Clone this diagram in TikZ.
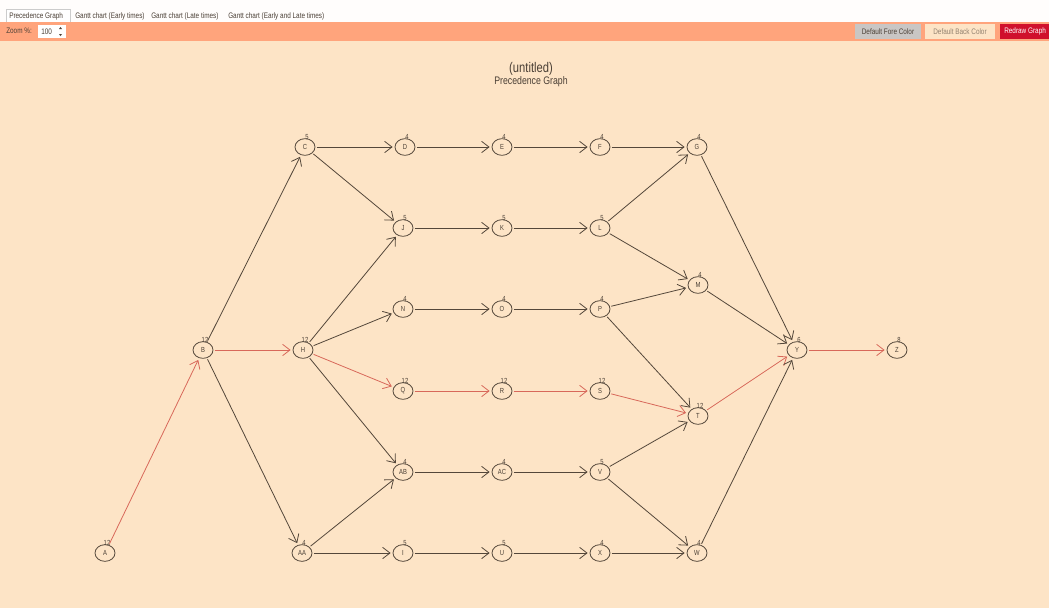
\documentclass[tikz,border=0pt]{standalone}
\usepackage{fontspec}
\setmainfont{Liberation Sans}
\newfontfamily\narrow[FakeStretch=0.8]{Liberation Sans}
\usetikzlibrary{shapes.geometric,arrows.meta}
\definecolor{bgc}{HTML}{FDE4C6}
\definecolor{barc}{HTML}{FFA47C}
\definecolor{linec}{HTML}{54473A}
\definecolor{redc}{HTML}{D8685A}
\definecolor{txtc}{HTML}{4A3F35}
\definecolor{btngray}{HTML}{C9C6C4}
\definecolor{btnred}{HTML}{D0102C}
\tikzset{
  nd/.style={ellipse, draw=linec, line width=0.6pt, minimum width=15pt, minimum height=12.5pt, inner sep=0pt, text=txtc, font=\narrow\fontsize{5.5}{6}\selectfont},
  lab/.style={inner sep=0pt, text=txtc, font=\narrow\fontsize{5.5}{5.5}\selectfont, xshift=1.5pt, yshift=-1.2pt},
  ed/.style={draw=linec, line width=0.6pt, -{Straight Barb[length=5.5pt,width=8.5pt]}, shorten >=1.5pt, shorten <=1pt},
  rd/.style={ed, draw=redc},
  tabt/.style={text=txtc, font=\narrow\fontsize{6}{7}\selectfont, inner sep=0pt}
}
\begin{document}
\begin{tikzpicture}[x=0.75pt,y=-0.75pt]
\useasboundingbox (0,0) rectangle (1049,608);
\fill[bgc] (0,0) rectangle (1049,608);
% top tab strip
\fill[white!94!bgc] (0,0) rectangle (1049,22);
\fill[white] (6,9) rectangle (70,22);
\draw[gray!40, line width=0.3pt] (6,22) -- (6,9) -- (70,9) -- (70,22);
\node[tabt, anchor=west] (t1) at (9,16) {Precedence Graph};
\node[tabt, anchor=west] (t2) at (75,16) {Gantt chart (Early times)};
\node[tabt, anchor=west] (t3) at (151,16) {Gantt chart (Late times)};
\node[tabt, anchor=west] (t4) at (228,16) {Gantt chart (Early and Late times)};
% orange bar
\fill[barc] (0,22) rectangle (1049,41);
\node[tabt, anchor=west] (zm) at (6,31) {Zoom \%:};
\fill[white] (38,25) rectangle (66,38);
\node[tabt, anchor=west] (zv) at (41,31.5) {100};
\fill[txtc] (59,29) -- (62,29) -- (60.5,27) -- cycle;
\fill[txtc] (59,34) -- (62,34) -- (60.5,36) -- cycle;
\fill[btngray] (855,24) rectangle (921,39);
\node[tabt] (b1) at (888,31.5) {Default Fore Color};
\fill[bgc] (925,24) rectangle (995,39);
\node[tabt, text=txtc!60!bgc] (b2) at (960,31.5) {Default Back Color};
\begin{scope}
\clip (1000,24) rectangle (1049,39);
\fill[btnred] (1000,24) rectangle (1049,39);
\node[tabt, text=white, anchor=west] (b3) at (1004,31.5) {Redraw Graph};
\end{scope}
% title
\node[text=txtc, font=\narrow\fontsize{10.5}{11}\selectfont, inner sep=0pt] (ti1) at (531,69) {(untitled)};
\node[text=txtc, font=\narrow\fontsize{8.2}{9}\selectfont, inner sep=0pt] (ti2) at (531,82) {Precedence Graph};
% nodes
\node[nd, label={[lab]above:12}] (A) at (105,553) {A};
\node[nd, label={[lab]above:12}] (B) at (203,350) {B};
\node[nd, label={[lab]above:5}] (C) at (305,147) {C};
\node[nd, label={[lab]above:4}] (D) at (405,147) {D};
\node[nd, label={[lab]above:4}] (E) at (502,147) {E};
\node[nd, label={[lab]above:4}] (F) at (600,147) {F};
\node[nd, label={[lab]above:4}] (G) at (697,147) {G};
\node[nd, label={[lab]above:5}] (J) at (403,228) {J};
\node[nd, label={[lab]above:5}] (K) at (502,228) {K};
\node[nd, label={[lab]above:5}] (L) at (600,228) {L};
\node[nd, label={[lab]above:4}] (M) at (698,285) {M};
\node[nd, label={[lab]above:4}] (N) at (403,309) {N};
\node[nd, label={[lab]above:4}] (O) at (502,309) {O};
\node[nd, label={[lab]above:4}] (P) at (600,309) {P};
\node[nd, label={[lab]above:12}] (H) at (303,350) {H};
\node[nd, label={[lab]above:12}] (Q) at (403,391) {Q};
\node[nd, label={[lab]above:12}] (R) at (502,391) {R};
\node[nd, label={[lab]above:12}] (S) at (600,391) {S};
\node[nd, label={[lab]above:12}] (T) at (698,416) {T};
\node[nd, label={[lab]above:6}] (Y) at (797,350) {Y};
\node[nd, label={[lab]above:8}] (Z) at (897,350) {Z};
\node[nd, label={[lab]above:4}] (AB) at (403,472) {AB};
\node[nd, label={[lab]above:4}] (AC) at (502,472) {AC};
\node[nd, label={[lab]above:5}] (V) at (600,472) {V};
\node[nd, label={[lab]above:4}] (AA) at (302,553) {AA};
\node[nd, label={[lab]above:5}] (I) at (403,553) {I};
\node[nd, label={[lab]above:5}] (U) at (502,553) {U};
\node[nd, label={[lab]above:4}] (X) at (600,553) {X};
\node[nd, label={[lab]above:4}] (W) at (697,553) {W};
% edges
\draw[rd] (A) -- (B);
\draw[ed] (B) -- (C);
\draw[rd] (B) -- (H);
\draw[ed] (B) -- (AA);
\draw[ed] (C) -- (D);
\draw[ed] (C) -- (J);
\draw[ed] (D) -- (E);
\draw[ed] (E) -- (F);
\draw[ed] (F) -- (G);
\draw[ed] (J) -- (K);
\draw[ed] (K) -- (L);
\draw[ed] (L) -- (G);
\draw[ed] (L) -- (M);
\draw[ed] (H) -- (J);
\draw[ed] (H) -- (N);
\draw[rd] (H) -- (Q);
\draw[ed] (H) -- (AB);
\draw[ed] (N) -- (O);
\draw[ed] (O) -- (P);
\draw[ed] (P) -- (M);
\draw[ed] (P) -- (T);
\draw[rd] (Q) -- (R);
\draw[rd] (R) -- (S);
\draw[rd] (S) -- (T);
\draw[rd] (T) -- (Y);
\draw[ed] (G) -- (Y);
\draw[ed] (M) -- (Y);
\draw[ed] (W) -- (Y);
\draw[rd] (Y) -- (Z);
\draw[ed] (AA) -- (AB);
\draw[ed] (AA) -- (I);
\draw[ed] (AB) -- (AC);
\draw[ed] (AC) -- (V);
\draw[ed] (V) -- (T);
\draw[ed] (V) -- (W);
\draw[ed] (I) -- (U);
\draw[ed] (U) -- (X);
\draw[ed] (X) -- (W);
\end{tikzpicture}
\end{document}
